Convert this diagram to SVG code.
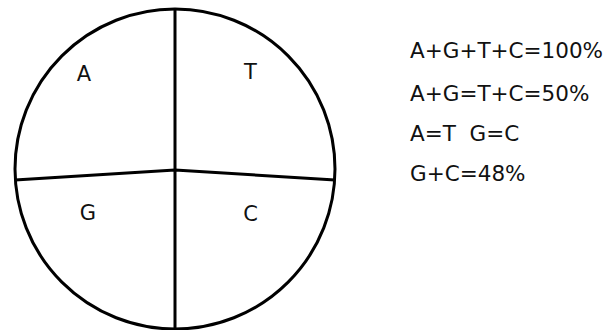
<svg xmlns="http://www.w3.org/2000/svg" width="611" height="330" viewBox="0 0 611 330">
<style>
.ln{fill:none;stroke:#000;stroke-width:3;stroke-linejoin:round}
.lb{font-family:"DejaVu Sans",Verdana,sans-serif;font-size:21px;fill:#111}
.eq{font-family:"DejaVu Sans",Verdana,sans-serif;font-size:21.5px;fill:#111;white-space:pre}
</style>
<rect width="611" height="330" fill="#fff"/>
<g id="circle">
<circle class="ln" cx="175" cy="169" r="160"/>
</g>
<g id="connectors">
<line class="ln" x1="175" y1="9" x2="175" y2="330"/>
<polyline class="ln" points="15,180 175,170 335,180"/>
</g>
<g id="A"><text class="lb" x="84" y="81" text-anchor="middle">A</text></g>
<g id="T"><text class="lb" x="250.5" y="79" text-anchor="middle">T</text></g>
<g id="G"><text class="lb" x="88" y="220" text-anchor="middle">G</text></g>
<g id="C"><text class="lb" x="250.5" y="221" text-anchor="middle">C</text></g>
<g id="equations">
<text class="eq" x="410" y="58">A+G+T+C=100%</text>
<text class="eq" x="410" y="101">A+G=T+C=50%</text>
<text class="eq" x="410" y="141" xml:space="preserve">A=T  G=C</text>
<text class="eq" x="410" y="181">G+C=48%</text>
</g>
</svg>
